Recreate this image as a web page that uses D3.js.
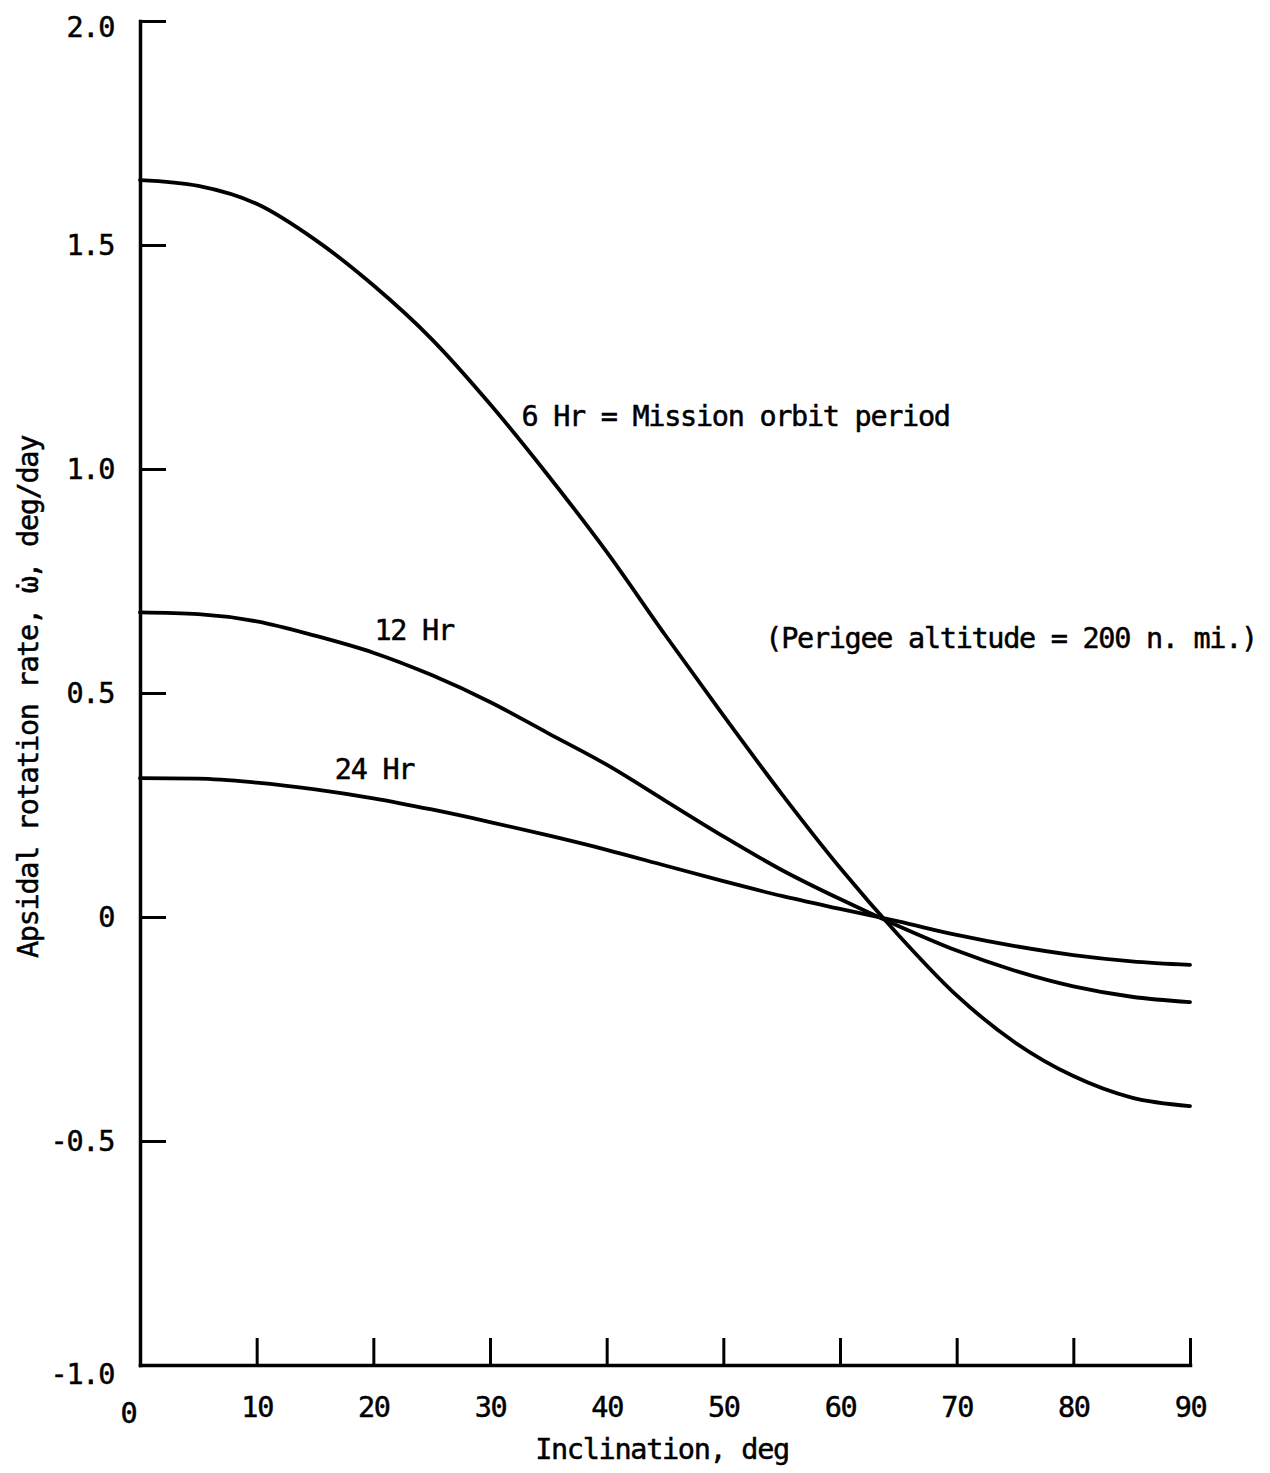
<!DOCTYPE html>
<html>
  <head>
    <meta charset="utf-8" />
    <title>Apsidal rotation rate vs inclination</title>
    <script src="https://d3js.org/d3.v7.min.js"></script>
    <style>
      html,
      body {
        margin: 0;
        padding: 0;
        background: #fff;
      }
      #chart text {
        font-family: "DejaVu Sans Mono", "Liberation Mono", monospace;
        font-size: 28.5px;
        letter-spacing: -1.3px;
        fill: #000;
        stroke: #000;
        stroke-width: 0.5px;
      }
    </style>
  </head>
  <body>
    <div id="chart"></div>
    <script>
      const width = 1270;
      const height = 1473;

      // inclination, deg
      const inclination = [
        0, 5, 10, 15, 20, 25, 30, 35, 40, 45, 50, 55, 60, 65, 70, 75, 80, 85, 90,
      ];
      // apsidal rotation rate, deg/day, per orbit period
      const hr6 = [
        1.645, 1.632, 1.592, 1.512, 1.41, 1.29, 1.145, 0.985, 0.815, 0.63, 0.45,
        0.275, 0.11, -0.04, -0.175, -0.28, -0.355, -0.403, -0.422,
      ];
      const hr12 = [
        0.68, 0.676, 0.66, 0.628, 0.59, 0.54, 0.48, 0.41, 0.34, 0.26, 0.18,
        0.105, 0.04, -0.02, -0.075, -0.12, -0.155, -0.178, -0.19,
      ];
      const hr24 = [
        0.31, 0.309, 0.3, 0.285, 0.265, 0.24, 0.212, 0.182, 0.15, 0.115, 0.08,
        0.047, 0.018, -0.01, -0.04, -0.065, -0.085, -0.099, -0.107,
      ];

      const xTicks = [0, 10, 20, 30, 40, 50, 60, 70, 80, 90];
      const yTicks = [2.0, 1.5, 1.0, 0.5, 0, -0.5, -1.0];
      const yTickLabels = ["2.0", "1.5", "1.0", "0.5", "0", "-0.5", "-1.0"];

      // curve labels placed in data coordinates (inclination, rate)
      const curveLabels = [
        { text: "6 Hr = Mission orbit period", i: 32.7, v: 1.097 },
        { text: "12 Hr", i: 20.1, v: 0.618 },
        { text: "24 Hr", i: 16.7, v: 0.309 },
        { text: "(Perigee altitude = 200 n. mi.)", i: 53.6, v: 0.6 },
      ];

      const x = d3.scaleLinear().domain([0, 90]).range([140, 1190]);
      const y = d3.scaleLinear().domain([-1, 2]).range([1365, 21]);

      const svg = d3
        .select("#chart")
        .append("svg")
        .attr("width", width)
        .attr("height", height);

      //x axis, ticks pointing up
      const xAxis = svg
        .append("g")
        .attr("transform", `translate(0, ${y(-1)})`)
        .call(
          d3
            .axisBottom(x)
            .tickValues(xTicks)
            .tickSizeInner(-27)
            .tickSizeOuter(0)
            .tickPadding(32)
            .tickFormat(d3.format("d"))
        );

      //y axis, ticks pointing right
      const yAxis = svg
        .append("g")
        .attr("transform", `translate(${x(0)}, 0)`)
        .call(
          d3
            .axisLeft(y)
            .tickValues(yTicks)
            .tickSizeInner(-26)
            .tickSizeOuter(0)
            .tickPadding(26)
            .tickFormat((d, i) => yTickLabels[i])
        );

      [xAxis, yAxis].forEach((g) => {
        g.attr("font-family", null).attr("font-size", null);
        g.selectAll("path.domain")
          .attr("stroke", "#000")
          .attr("stroke-width", 3.5)
          .attr("stroke-linecap", "square");
        g.selectAll(".tick line").attr("stroke", "#000").attr("stroke-width", 3);
      });

      // the 0 tick sits on the y axis and its label is set off a little
      xAxis
        .selectAll(".tick")
        .filter((d) => d === 0)
        .call((t) => t.select("line").remove())
        .select("text")
        .attr("dx", -12)
        .attr("dy", "0.9em");

      yAxis
        .selectAll(".tick text")
        .filter((d) => d === 2 || d === -1)
        .attr("dy", (d) => (d === 2 ? "0.55em" : "0.65em"));

      const line = d3
        .line()
        .x((d) => x(d[0]))
        .y((d) => y(d[1]))
        .curve(d3.curveMonotoneX);

      [hr6, hr12, hr24].forEach((series) => {
        svg
          .append("path")
          .datum(inclination.map((inc, k) => [inc, series[k]]))
          .attr("fill", "none")
          .attr("stroke", "#000")
          .attr("stroke-width", 3.8)
          .attr("stroke-linecap", "round")
          .attr("d", line);
      });

      svg
        .selectAll("text.curve-label")
        .data(curveLabels)
        .enter()
        .append("text")
        .attr("class", "curve-label")
        .attr("x", (d) => x(d.i))
        .attr("y", (d) => y(d.v))
        .text((d) => d.text);

      //axis titles
      svg
        .append("text")
        .attr("x", 662)
        .attr("y", 1459)
        .attr("text-anchor", "middle")
        .text("Inclination, deg");

      const yTitle = svg
        .append("text")
        .attr("transform", "translate(38, 697) rotate(-90)")
        .attr("text-anchor", "middle");
      yTitle.append("tspan").text("Apsidal rotation rate, \u03C9");
      //dot over omega, pulled back over the previous glyph
      yTitle.append("tspan").attr("dx", "-0.6em").text("\u02D9");
      yTitle.append("tspan").text(", deg/day");
    </script>
  </body>
</html>
